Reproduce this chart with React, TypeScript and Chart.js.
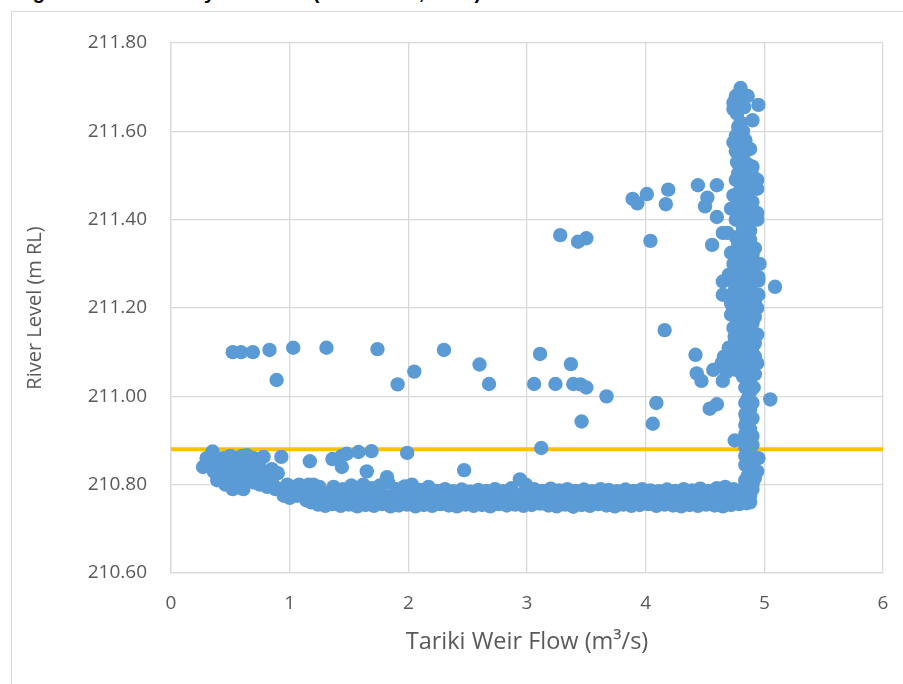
import React, { useEffect, useRef } from "react";
import { Chart, registerables } from "chart.js";

Chart.register(...registerables);

// Axis ranges and ticks
const flowTicks = [0, 1, 2, 3, 4, 5, 6];
const levelTicks = [210.6, 210.8, 211.0, 211.2, 211.4, 211.6, 211.8];

// Threshold line (orange)
const thresholdFlow = [0, 6];
const thresholdLevel = 210.88;

// Isolated readings (flow m3/s, level m RL)
const scatteredPoints: [number, number][] = [
  [0.52, 211.1], [0.59, 211.1], [0.69, 211.1], [0.83, 211.105], [1.03, 211.11], [1.31, 211.11],
  [1.74, 211.107], [2.3, 211.105], [3.11, 211.096],
  [0.89, 211.037], [1.91, 211.027], [2.05, 211.056], [2.6, 211.072], [2.68, 211.028],
  [3.06, 211.028], [3.24, 211.028], [3.37, 211.073], [3.39, 211.028], [3.45, 211.027],
  [3.5, 211.02], [3.67, 211.0], [3.46, 210.943], [3.12, 210.883], [2.47, 210.833],
  [3.28, 211.365], [3.43, 211.35], [3.5, 211.358], [3.89, 211.447], [3.93, 211.437],
  [4.01, 211.458], [4.17, 211.435], [4.19, 211.468], [4.04, 211.352], [4.16, 211.15],
  [4.06, 210.938], [4.09, 210.985], [4.42, 211.094], [4.43, 211.052], [4.47, 211.035],
  [4.54, 210.972], [4.6, 210.982], [4.65, 211.035], [4.56, 211.343], [5.05, 210.993],
  [5.09, 211.248], [4.96, 211.3], [4.95, 211.262],
  [4.44, 211.478], [4.6, 211.478], [4.5, 211.43], [4.52, 211.45], [4.6, 211.406], [4.65, 211.37],
];

// Low-flow cluster at left
const lowFlowCluster: [number, number][] = [
  [0.35, 210.875], [0.3, 210.86], [0.27, 210.84], [0.32, 210.845], [0.39, 210.81], [0.4, 210.84],
  [0.44, 210.86], [0.47, 210.855], [0.5, 210.865], [0.55, 210.86], [0.6, 210.865], [0.64, 210.867],
  [0.7, 210.86], [0.78, 210.863], [0.93, 210.863], [0.45, 210.835], [0.52, 210.83], [0.55, 210.825],
  [0.62, 210.84], [0.67, 210.835], [0.72, 210.828], [0.9, 210.826], [0.51, 210.815], [0.52, 210.79],
  [0.58, 210.8], [0.61, 210.79], [0.65, 210.81], [0.7, 210.805], [0.75, 210.8], [0.81, 210.795],
  [0.86, 210.8], [0.92, 210.79], [0.97, 210.785], [1.02, 210.78], [0.98, 210.8], [1.05, 210.795],
  [1.1, 210.79], [1.12, 210.775], [1.17, 210.853], [1.16, 210.8], [1.2, 210.785], [1.22, 210.77],
  [1.27, 210.765], [1.3, 210.78], [1.25, 210.795], [1.33, 210.76],
  [1.36, 210.858], [1.44, 210.865], [1.48, 210.87], [1.58, 210.874], [1.44, 210.84], [1.69, 210.876],
  [1.99, 210.872], [1.65, 210.83], [1.82, 210.817],
  [0.33, 210.86], [0.37, 210.85], [0.42, 210.85], [0.36, 210.83], [0.43, 210.82], [0.48, 210.84],
  [0.58, 210.845], [0.63, 210.82], [0.68, 210.85], [0.74, 210.845], [0.46, 210.8], [0.56, 210.81],
  [0.74, 210.815], [0.8, 210.82], [0.84, 210.81], [0.88, 210.79], [0.95, 210.775], [1.0, 210.77],
  [1.06, 210.775], [1.14, 210.765], [1.18, 210.76], [1.24, 210.755], [1.3, 210.752], [1.08, 210.8],
  [1.2, 210.8], [0.85, 210.835], [0.76, 210.83],
];

// Main low-level band, lower row
const bandLower: [number, number][] = [
  [1.36, 210.756], [1.43, 210.752], [1.5, 210.755], [1.57, 210.751], [1.64, 210.754], [1.71, 210.752],
  [1.78, 210.756], [1.85, 210.751], [1.92, 210.753], [1.99, 210.755], [2.06, 210.751], [2.13, 210.754],
  [2.2, 210.752], [2.27, 210.756], [2.34, 210.753], [2.41, 210.751], [2.48, 210.755], [2.55, 210.752],
  [2.62, 210.754], [2.69, 210.751], [2.76, 210.756], [2.83, 210.753], [2.9, 210.755], [2.97, 210.752],
  [3.04, 210.754], [3.11, 210.757], [3.18, 210.753], [3.25, 210.751], [3.32, 210.755], [3.39, 210.75],
  [3.46, 210.754], [3.53, 210.752], [3.6, 210.756], [3.67, 210.753], [3.74, 210.751], [3.81, 210.755],
  [3.88, 210.752], [3.95, 210.754], [4.02, 210.756], [4.09, 210.752], [4.16, 210.755], [4.23, 210.753],
  [4.3, 210.751], [4.37, 210.754], [4.44, 210.752], [4.51, 210.755], [4.58, 210.753], [4.65, 210.751],
  [4.72, 210.754], [4.79, 210.756],
];

// Main low-level band, middle row
const bandMiddle: [number, number][] = [
  [1.39, 210.772], [1.46, 210.768], [1.53, 210.775], [1.6, 210.77], [1.67, 210.773], [1.74, 210.769],
  [1.81, 210.774], [1.88, 210.771], [1.95, 210.768], [2.02, 210.775], [2.09, 210.77], [2.16, 210.773],
  [2.23, 210.769], [2.3, 210.772], [2.37, 210.77], [2.44, 210.774], [2.51, 210.768], [2.58, 210.772],
  [2.65, 210.77], [2.72, 210.775], [2.79, 210.769], [2.86, 210.773], [2.93, 210.776], [3.0, 210.771],
  [3.07, 210.774], [3.14, 210.769], [3.21, 210.772], [3.28, 210.77], [3.35, 210.775], [3.42, 210.768],
  [3.49, 210.773], [3.56, 210.77], [3.63, 210.774], [3.7, 210.769], [3.77, 210.772], [3.84, 210.775],
  [3.91, 210.77], [3.98, 210.773], [4.05, 210.768], [4.12, 210.774], [4.19, 210.771], [4.26, 210.769],
  [4.33, 210.773], [4.4, 210.77], [4.47, 210.775], [4.54, 210.772], [4.61, 210.77], [4.68, 210.774],
  [4.75, 210.771], [4.82, 210.768],
];

// Main low-level band, upper row
const bandUpper: [number, number][] = [
  [1.37, 210.795], [1.45, 210.79], [1.52, 210.798], [1.58, 210.788], [1.62, 210.8], [1.69, 210.792],
  [1.76, 210.798], [1.83, 210.805], [1.9, 210.79], [1.97, 210.796], [2.03, 210.8], [2.1, 210.788],
  [2.17, 210.795], [2.24, 210.786], [2.31, 210.79], [2.38, 210.785], [2.45, 210.789], [2.52, 210.784],
  [2.59, 210.788], [2.66, 210.786], [2.73, 210.79], [2.8, 210.785], [2.87, 210.792], [2.94, 210.812],
  [2.99, 210.8], [3.06, 210.79], [3.13, 210.786], [3.2, 210.791], [3.27, 210.787], [3.34, 210.79],
  [3.41, 210.786], [3.48, 210.789], [3.55, 210.785], [3.62, 210.79], [3.69, 210.788], [3.76, 210.785],
  [3.83, 210.789], [3.9, 210.786], [3.97, 210.79], [4.04, 210.787], [4.11, 210.785], [4.18, 210.789],
  [4.25, 210.786], [4.32, 210.79], [4.39, 210.787], [4.46, 210.791], [4.53, 210.786], [4.6, 210.792],
  [4.67, 210.795], [4.74, 210.79], [4.85, 210.758], [4.88, 210.775], [4.9, 210.79], [4.84, 210.8],
];

// Near-vertical rise at ~4.8 m3/s
const risePoints: [number, number][] = [
  [4.8, 211.698], [4.76, 211.68], [4.74, 211.665], [4.86, 211.68], [4.95, 211.66], [4.74, 211.65],
  [4.77, 211.64], [4.83, 211.655], [4.9, 211.625], [4.82, 211.6], [4.76, 211.59], [4.74, 211.575],
  [4.88, 211.56], [4.76, 211.555], [4.77, 211.53], [4.86, 211.525], [4.9, 211.52], [4.78, 211.505],
  [4.94, 211.49], [4.86, 211.49], [4.8, 211.48], [4.94, 211.47], [4.88, 211.465], [4.74, 211.455],
  [4.82, 211.45], [4.9, 211.44], [4.72, 211.425], [4.78, 211.42], [4.94, 211.415], [4.86, 211.41],
  [4.94, 211.4], [4.8, 211.395], [4.82, 211.38], [4.88, 211.375], [4.69, 211.37], [4.76, 211.36],
  [4.88, 211.355], [4.82, 211.34], [4.72, 211.325], [4.78, 211.31], [4.86, 211.315], [4.84, 211.3],
  [4.76, 211.29], [4.8, 211.28], [4.95, 211.27], [4.65, 211.26], [4.75, 211.255], [4.86, 211.25],
  [4.78, 211.24], [4.65, 211.23], [4.95, 211.23], [4.82, 211.22], [4.72, 211.21], [4.88, 211.205],
  [4.94, 211.2], [4.78, 211.19], [4.84, 211.18], [4.77, 211.175], [4.9, 211.165], [4.8, 211.155],
  [4.94, 211.14], [4.75, 211.135], [4.86, 211.13], [4.82, 211.12], [4.7, 211.11], [4.78, 211.1],
  [4.9, 211.1], [4.84, 211.09], [4.74, 211.08], [4.94, 211.075], [4.8, 211.07], [4.88, 211.06],
  [4.57, 211.06], [4.68, 211.055], [4.66, 211.09], [4.64, 211.075], [4.82, 211.045], [4.91, 211.02],
  [4.84, 211.02], [4.86, 210.995], [4.88, 210.97], [4.85, 210.95], [4.88, 210.925], [4.86, 210.9],
  [4.75, 210.9], [4.88, 210.875], [4.86, 210.855], [4.95, 210.86], [4.9, 210.84], [4.94, 210.83],
  [4.86, 210.82], [4.9, 210.8], [4.84, 210.79], [4.78, 210.78],
];

// Extra readings filling the rise column
const riseFill: [number, number][] = [
  [4.84, 211.68], [4.79, 211.66], [4.8, 211.62], [4.78, 211.61], [4.84, 211.58], [4.8, 211.565],
  [4.82, 211.54], [4.8, 211.52], [4.84, 211.5], [4.9, 211.5], [4.76, 211.49], [4.84, 211.465],
  [4.78, 211.46], [4.86, 211.44], [4.78, 211.44], [4.84, 211.425], [4.9, 211.42], [4.76, 211.4],
  [4.88, 211.395], [4.84, 211.36], [4.78, 211.345], [4.92, 211.335], [4.8, 211.33], [4.9, 211.32],
  [4.74, 211.3], [4.9, 211.29], [4.82, 211.27], [4.7, 211.275], [4.88, 211.265], [4.9, 211.235],
  [4.74, 211.235], [4.8, 211.215], [4.92, 211.215], [4.86, 211.19], [4.72, 211.185], [4.92, 211.18],
  [4.84, 211.16], [4.74, 211.155], [4.88, 211.145], [4.8, 211.135], [4.92, 211.12], [4.74, 211.115],
  [4.86, 211.105], [4.8, 211.09], [4.92, 211.09], [4.7, 211.085], [4.86, 211.07], [4.76, 211.06],
  [4.92, 211.05], [4.86, 211.04], [4.88, 211.01], [4.84, 210.985], [4.9, 210.985], [4.84, 210.96],
  [4.9, 210.95], [4.84, 210.935], [4.9, 210.91], [4.84, 210.915], [4.84, 210.885], [4.9, 210.89],
  [4.84, 210.865], [4.9, 210.86], [4.84, 210.845], [4.88, 210.825], [4.84, 210.81], [4.92, 210.815],
  [4.82, 210.78], [4.88, 210.76],
];

const TEXT = "#595959";
const GRID = "#D9D9D9";
const FONT = "'Open Sans', sans-serif";

export default function App() {
  const ref = useRef<HTMLCanvasElement>(null);

  useEffect(() => {
    const all = [
      ...scatteredPoints,
      ...lowFlowCluster,
      ...bandLower,
      ...bandMiddle,
      ...bandUpper,
      ...risePoints,
      ...riseFill,
    ];
    const chart = new Chart(ref.current as HTMLCanvasElement, {
      type: "scatter",
      data: {
        datasets: [
          {
            label: "River level",
            data: all.map(([x, y]) => ({ x, y })),
            backgroundColor: "#5B9BD5",
            borderColor: "#5B9BD5",
            borderWidth: 0,
            pointRadius: 7.2,
          },
          {
            label: "Threshold",
            data: thresholdFlow.map((x) => ({ x, y: thresholdLevel })),
            showLine: true,
            borderColor: "#FFC000",
            borderWidth: 4,
            pointRadius: 0,
          } as any,
        ],
      },
      options: {
        responsive: false,
        animation: false,
        layout: { padding: { left: 23, top: 43, right: 20, bottom: 28 } },
        plugins: { legend: { display: false }, tooltip: { enabled: false } },
        scales: {
          x: {
            type: "linear",
            min: flowTicks[0],
            max: flowTicks[flowTicks.length - 1],
            afterBuildTicks: (s: any) => {
              s.ticks = flowTicks.map((v) => ({ value: v }));
            },
            afterFit: (s: any) => {
              s.height = 83;
              s.paddingLeft = 0;
              s.paddingRight = 0;
            },
            ticks: { color: TEXT, padding: 19, font: { family: FONT, size: 19 } },
            grid: { color: GRID, lineWidth: 1.3, drawTicks: false },
            border: { color: GRID, width: 1.3 },
            title: {
              display: true,
              text: "Tariki Weir Flow (m³/s)",
              color: TEXT,
              padding: 0,
              font: { family: FONT, size: 23.5 },
            },
          },
          y: {
            type: "linear",
            min: levelTicks[0],
            max: levelTicks[levelTicks.length - 1],
            afterBuildTicks: (s: any) => {
              s.ticks = levelTicks.map((v) => ({ value: v }));
            },
            afterFit: (s: any) => {
              s.width = 148;
            },
            ticks: {
              color: TEXT,
              padding: 24,
              font: { family: FONT, size: 19 },
              callback: (v: any) => Number(v).toFixed(2),
            },
            grid: { color: GRID, lineWidth: 1.3, drawTicks: false },
            border: { color: GRID, width: 1.3 },
            title: {
              display: true,
              text: "River Level (m RL)",
              color: TEXT,
              padding: 0,
              font: { family: FONT, size: 20 },
            },
          },
        },
      },
    });
    return () => chart.destroy();
  }, []);

  return (
    <div
      style={{
        position: "absolute",
        left: 0,
        top: 0,
        width: 903,
        height: 684,
        overflow: "hidden",
        background: "#fff",
      }}
    >
      <div
        style={{
          position: "absolute",
          left: 15,
          top: -18,
          font: "bold 20px 'Liberation Sans', Arial, sans-serif",
          lineHeight: "20px",
          whiteSpace: "nowrap",
          color: "#000",
        }}
      >
        Figure 4.3: Boundary flow data (Tariki Weir, 2017)
      </div>
      <div
        style={{
          position: "absolute",
          left: 11,
          top: 11,
          width: 1000,
          height: 1000,
          border: "1px solid #D9D9D9",
        }}
      />
      <canvas
        ref={ref}
        width={903}
        height={684}
        style={{ position: "absolute", left: 0, top: 0, width: 903, height: 684 }}
      />
    </div>
  );
}
